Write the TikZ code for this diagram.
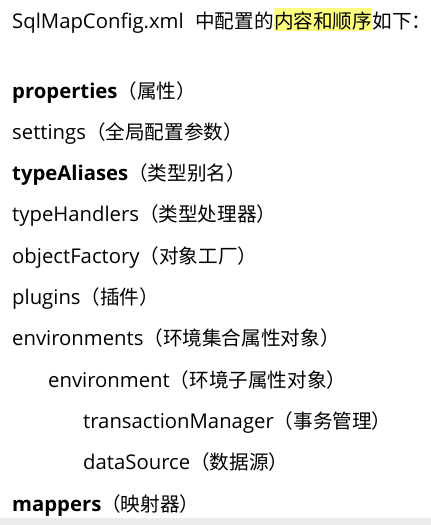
\documentclass[tikz,border=0pt]{standalone}
\usepackage{fontspec}
\usepackage{tikz}
\setmainfont{Open Sans}
\newfontfamily\cjk[Scale=0.966]{Noto Sans CJK SC}
\newcommand\zh[1]{{\cjk\mdseries #1}}
\tikzset{
  entry/.style    = {anchor=base west, inner sep=0pt,
                     font=\fontsize{20.3}{24}\selectfont},
  keyentry/.style = {entry, font=\fontsize{20.3}{24}\selectfont\bfseries},
  marked/.style   = {entry, fill=marker, text height=20pt, text depth=3pt},
}
\definecolor{marker}{RGB}{255,255,128}
\definecolor{strip}{RGB}{235,235,235}

\begin{document}
\begin{tikzpicture}
  [
    x = 1pt,
    y = -1pt
  ]
  \useasboundingbox (0,0) rectangle (431,525);
  \fill [strip] (0,518) rectangle (431,525);
  \node [entry]  (title) at (12,28) {SqlMapConfig.xml\hspace{11.5pt}\zh{中配置的}};
  \node [marked] (order) at (title.base east) {\zh{内容和顺序}};
  \node [entry]  (below) at (order.base east) {\zh{如下：}};

  \node [keyentry] (properties)   at (12,98)    {properties\zh{（属性）}};
  \node [entry]    (settings)     at (12,139.3) {settings\zh{（全局配置参数）}};
  \node [keyentry] (aliases)      at (12,180.6) {typeAliases\zh{（类型别名）}};
  \node [entry]    (handlers)     at (12,221.9) {typeHandlers\zh{（类型处理器）}};
  \node [entry]    (factory)      at (12,263.2) {objectFactory\zh{（对象工厂）}};
  \node [entry]    (plugins)      at (12,304.5) {plugins\zh{（插件）}};
  \node [entry]    (environments) at (12,345.8) {environments\zh{（环境集合属性对象）}};
  \node [entry]    (environment)  at (48,387.1) {environment\zh{（环境子属性对象）}};
  \node [entry]    (transaction)  at (83,428.4) {transactionManager\zh{（事务管理）}};
  \node [entry]    (datasource)   at (83,469.7) {dataSource\zh{（数据源）}};
  \node [keyentry] (mappers)      at (12,511)   {mappers\zh{（映射器）}};
\end{tikzpicture}
\end{document}
